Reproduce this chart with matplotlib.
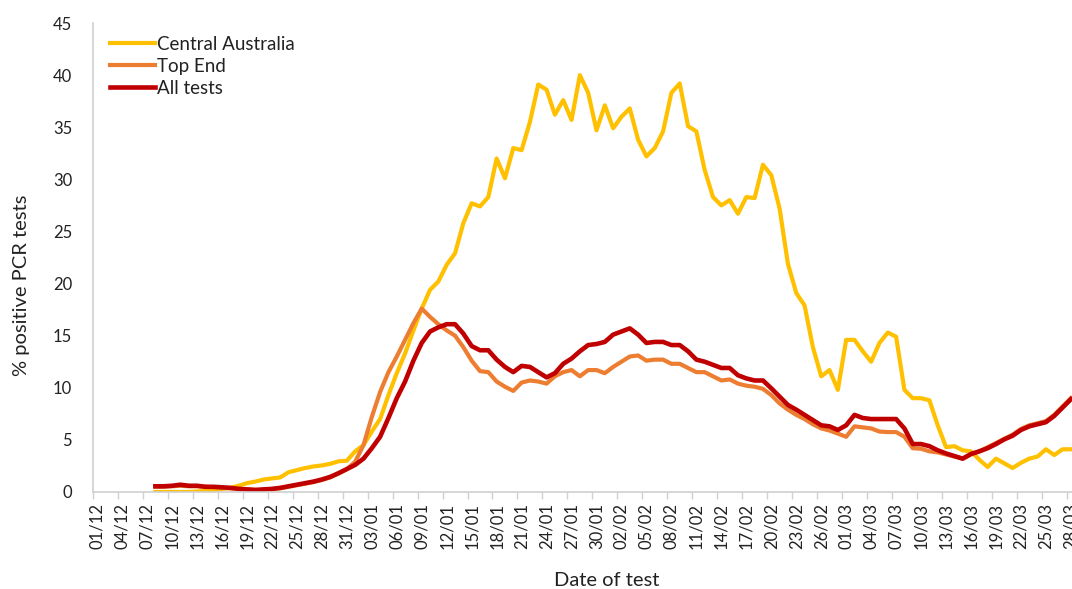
import numpy as np
import matplotlib
matplotlib.use("Agg")
import matplotlib.pyplot as plt

# day index 0 = 01/12, first value is 08/12
first_day = 7

central_australia = [
    0.0, 0.0, 0.0, 0.0, 0.0, 0.05, 0.1, 0.15, 0.3, 0.4,
    0.6, 0.85, 1.0, 1.2, 1.3, 1.4, 1.9, 2.1, 2.3, 2.45,
    2.55, 2.7, 2.95, 3.0, 3.9, 4.5, 5.8, 7.0, 9.3, 11.4,
    13.3, 15.5, 17.6, 19.4, 20.2, 21.8, 22.9, 25.8, 27.7, 27.4,
    28.3, 32.0, 30.1, 33.0, 32.8, 35.5, 39.1, 38.6, 36.2, 37.6,
    35.7, 40.0, 38.3, 34.7, 37.1, 34.9, 36.0, 36.8, 33.8, 32.2,
    33.0, 34.6, 38.3, 39.2, 35.1, 34.6, 30.9, 28.3, 27.5, 28.0,
    26.7, 28.3, 28.2, 31.4, 30.4, 27.2, 21.9, 19.1, 17.9, 13.9,
    11.1, 11.7, 9.8, 14.6, 14.6, 13.5, 12.5, 14.3, 15.3, 14.9,
    9.8, 9.0, 9.0, 8.8, 6.4, 4.3, 4.4, 4.0, 3.9, 3.1,
    2.4, 3.2, 2.75, 2.3, 2.8, 3.2, 3.4, 4.1, 3.55, 4.1,
    4.1,
]

top_end = [
    0.5, 0.5, 0.55, 0.6, 0.55, 0.55, 0.5, 0.45, 0.4, 0.35,
    0.3, 0.25, 0.2, 0.2, 0.25, 0.35, 0.5, 0.65, 0.8, 0.95,
    1.15, 1.4, 1.8, 2.2, 2.9, 4.5, 7.2, 9.6, 11.5, 13.0,
    14.6, 16.2, 17.6, 16.8, 16.1, 15.5, 15.0, 13.9, 12.6, 11.6,
    11.5, 10.6, 10.1, 9.7, 10.5, 10.7, 10.6, 10.4, 11.1, 11.5,
    11.7, 11.1, 11.7, 11.7, 11.4, 12.0, 12.5, 13.0, 13.1, 12.6,
    12.7, 12.7, 12.3, 12.3, 11.9, 11.5, 11.5, 11.1, 10.7, 10.8,
    10.4, 10.2, 10.1, 9.9, 9.3, 8.5, 7.9, 7.4, 7.0, 6.5,
    6.1, 5.9, 5.6, 5.3, 6.3, 6.2, 6.1, 5.8, 5.75, 5.75,
    5.3, 4.2, 4.15, 3.9, 3.8, 3.6, 3.4, 3.2, 3.6, 3.9,
    4.3, 4.7, 5.1, 5.5, 6.05, 6.4, 6.6, 6.8, 7.4, 8.2,
    9.0,
]

all_tests = [
    0.55, 0.55, 0.6, 0.7, 0.6, 0.6, 0.5, 0.5, 0.45, 0.4,
    0.3, 0.25, 0.2, 0.25, 0.3, 0.4, 0.55, 0.7, 0.85, 1.0,
    1.2, 1.45, 1.8, 2.2, 2.6, 3.2, 4.2, 5.3, 7.1, 9.0,
    10.6, 12.6, 14.3, 15.4, 15.8, 16.1, 16.1, 15.2, 14.0, 13.6,
    13.6, 12.7, 12.0, 11.5, 12.1, 12.0, 11.5, 11.0, 11.4, 12.3,
    12.8, 13.5, 14.1, 14.2, 14.4, 15.1, 15.4, 15.7, 15.1, 14.3,
    14.4, 14.4, 14.1, 14.1, 13.5, 12.7, 12.5, 12.2, 11.9, 11.9,
    11.2, 10.9, 10.7, 10.7, 9.95, 9.15, 8.35, 7.9, 7.4, 6.9,
    6.4, 6.3, 5.95, 6.4, 7.4, 7.1, 7.0, 7.0, 7.0, 7.0,
    6.1, 4.6, 4.6, 4.4, 4.0, 3.7, 3.45, 3.2, 3.65, 3.9,
    4.2, 4.6, 5.05, 5.4, 5.95, 6.3, 6.5, 6.7, 7.3, 8.1,
    8.9,
]

tick_labels = [
    "01/12", "04/12", "07/12", "10/12", "13/12", "16/12", "19/12", "22/12",
    "25/12", "28/12", "31/12", "03/01", "06/01", "09/01", "12/01", "15/01",
    "18/01", "21/01", "24/01", "27/01", "30/01", "02/02", "05/02", "08/02",
    "11/02", "14/02", "17/02", "20/02", "23/02", "26/02", "01/03", "04/03",
    "07/03", "10/03", "13/03", "16/03", "19/03", "22/03", "25/03", "28/03",
]

plt.rcParams['font.family'] = ['Lato', 'DejaVu Sans']
txt = '#222222'

fig = plt.figure(figsize=(10.72, 5.89), dpi=100)
# axes runs past the right edge: the reference is cropped there
ax = fig.add_axes([93/1072, 97/589, 1007/1072, 469/589])

x = np.arange(first_day, first_day + len(all_tests))
ax.plot(x, central_australia, color='#FFC000', lw=3.0, label='Central Australia', solid_joinstyle='round')
ax.plot(x, top_end, color='#ED7D31', lw=3.0, label='Top End', solid_joinstyle='round')
ax.plot(x, all_tests, color='#C00000', lw=3.3, label='All tests', solid_joinstyle='round')

ax.set_xlim(-0.5, 120.5)
ax.set_ylim(0, 45)
ax.set_yticks(np.arange(0, 46, 5))
ax.tick_params(axis='y', length=0, labelsize=12, colors=txt, pad=15)

ax.set_xticks(np.arange(0, 3*len(tick_labels), 3))
ax.set_xticklabels(tick_labels, rotation=90)
ax.set_xticks(np.arange(-0.5, 121, 3), minor=True)
ax.tick_params(axis='x', which='major', length=0, labelsize=12, colors=txt, pad=8)
ax.tick_params(axis='x', which='minor', length=5, color='#d0d0d0', width=1)

for s in ['top', 'right']:
    ax.spines[s].set_visible(False)
for s in ['left', 'bottom']:
    ax.spines[s].set_color('#d0d0d0')
    ax.spines[s].set_linewidth(1.2)

ax.set_ylabel('% positive PCR tests', fontsize=14.5, color=txt)
ax.yaxis.set_label_coords(-0.0626, 0.441)
fig.text(607/1072, 1 - 580/589, 'Date of test', fontsize=14.5, color=txt, ha='center', va='center')

leg = ax.legend(loc='upper left', bbox_to_anchor=(102/1072, 1 - 28/589), bbox_transform=fig.transFigure,
                frameon=False, fontsize=13.5, handlelength=2.4, handletextpad=0.15,
                labelspacing=0.28, borderaxespad=0)
for t in leg.get_texts():
    t.set_color(txt)

fig.savefig('out.png', dpi=100)
